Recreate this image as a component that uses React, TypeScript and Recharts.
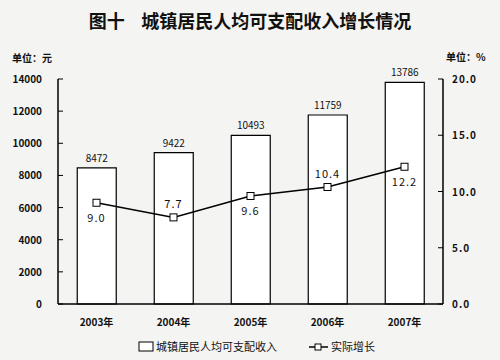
import React from 'react';
import { ComposedChart, Bar, Line, XAxis, YAxis, LabelList, Legend } from 'recharts';

const years = ['2003年', '2004年', '2005年', '2006年', '2007年'];
const income = [8472, 9422, 10493, 11759, 13786];
const growth = [9.0, 7.7, 9.6, 10.4, 12.2];
const leftTicks = [0, 2000, 4000, 6000, 8000, 10000, 12000, 14000];
const rightTicks = [0, 5, 10, 15, 20];
// where the growth label sits relative to its point
const growthLabelSide = ['below', 'above', 'below', 'above', 'below'];

const data = years.map((y, i) => ({ year: y, income: income[i], growth: growth[i] }));

const FONT = '"Noto Sans CJK SC", "DejaVu Sans", sans-serif';

const LeftTick = (props: any) => {
  const { y, payload } = props;
  return (
    <g>
      <line x1={58} x2={63} y1={y} y2={y} stroke="#000" />
      <text x={42} y={y} dy={4} textAnchor="end" fontSize={10} fontWeight={600} fill="#111" fontFamily={FONT}>
        {payload.value}
      </text>
    </g>
  );
};

const RightTick = (props: any) => {
  const { y, payload } = props;
  return (
    <g>
      <line x1={438} x2={443} y1={y} y2={y} stroke="#000" />
      <text x={452} y={y} dy={4} textAnchor="start" fontSize={10} fontWeight={600} fill="#111" fontFamily={FONT} letterSpacing={1}>
        {Number(payload.value).toFixed(1)}
      </text>
    </g>
  );
};

const XTick = (props: any) => {
  const { x, payload } = props;
  return (
    <text x={x} y={326} textAnchor="middle" fontSize={10} fontWeight={600} fill="#111" fontFamily={FONT}>
      {payload.value}
    </text>
  );
};

const SquareDot = (props: any) => {
  const { cx, cy } = props;
  if (cx == null || cy == null) return null;
  return <rect x={cx - 3.5} y={cy - 3.5} width={7} height={7} fill="#fff" stroke="#000" strokeWidth={1} />;
};

const GrowthLabel = (props: any) => {
  const { x, y, index, value } = props;
  const below = growthLabelSide[index] === 'below';
  return (
    <text x={x} y={below ? y + 19 : y - 9} textAnchor="middle" fontSize={11} fill="#111" fontFamily={FONT} letterSpacing={1}>
      {Number(value).toFixed(1)}
    </text>
  );
};

const LegendContent = () => (
  <svg width={500} height={20}>
    <rect x={139} y={5} width={14} height={9} fill="#fff" stroke="#000" />
    <text x={156} y={14} fontSize={11} fill="#111" fontFamily={FONT}>城镇居民人均可支配收入</text>
    <line x1={309} x2={328} y1={10} y2={10} stroke="#000" strokeWidth={1.5} />
    <rect x={315} y={7} width={6} height={6} fill="#fff" stroke="#000" />
    <text x={331} y={14} fontSize={11} fill="#111" fontFamily={FONT}>实际增长</text>
  </svg>
);

export default function App() {
  return (
    <div style={{ position: 'absolute', left: 0, top: 0, width: 500, height: 360, background: '#f4f4f2', fontFamily: FONT }}>
      <div style={{ position: 'absolute', top: 7, left: 0, width: 500, textAlign: 'center', fontSize: 18, fontWeight: 600, color: '#111' }}>
        图十&nbsp;&nbsp;&nbsp;&nbsp;城镇居民人均可支配收入增长情况
      </div>
      <div style={{ position: 'absolute', top: 50, left: 12, fontSize: 10, fontWeight: 600, color: '#111' }}>单位：元</div>
      <div style={{ position: 'absolute', top: 49, left: 446, fontSize: 10, fontWeight: 600, color: '#111' }}>单位：%</div>
      <ComposedChart
        width={500}
        height={360}
        data={data}
        margin={{ top: 79, right: 0, bottom: 26, left: 0 }}
        barCategoryGap="25%"
      >
        <XAxis dataKey="year" height={30} tick={<XTick />} tickLine={false} axisLine={{ stroke: '#000', strokeWidth: 1.5 }} />
        <YAxis
          yAxisId="left"
          width={58}
          domain={[0, 14000]}
          ticks={leftTicks}
          tick={<LeftTick />}
          tickLine={false}
          axisLine={{ stroke: '#000', strokeWidth: 1.5 }}
          interval={0}
        />
        <YAxis
          yAxisId="right"
          orientation="right"
          width={57}
          domain={[0, 20]}
          ticks={rightTicks}
          tick={<RightTick />}
          tickLine={false}
          axisLine={{ stroke: '#000', strokeWidth: 1.5 }}
          interval={0}
        />
        <Bar yAxisId="left" dataKey="income" fill="#fff" stroke="#000" strokeWidth={1.2} isAnimationActive={false}>
          <LabelList dataKey="income" position="top" offset={6} fontSize={10} fill="#111" fontFamily={FONT} />
        </Bar>
        <Line
          yAxisId="right"
          dataKey="growth"
          stroke="#000"
          strokeWidth={1.5}
          dot={<SquareDot />}
          activeDot={false}
          isAnimationActive={false}
        >
          <LabelList dataKey="growth" content={<GrowthLabel />} />
        </Line>
        <Legend
          layout="horizontal"
          verticalAlign="middle"
          align="center"
          content={<LegendContent />}
          wrapperStyle={{ position: 'absolute', top: 337, left: 0, width: 500 }}
        />
      </ComposedChart>
    </div>
  );
}
